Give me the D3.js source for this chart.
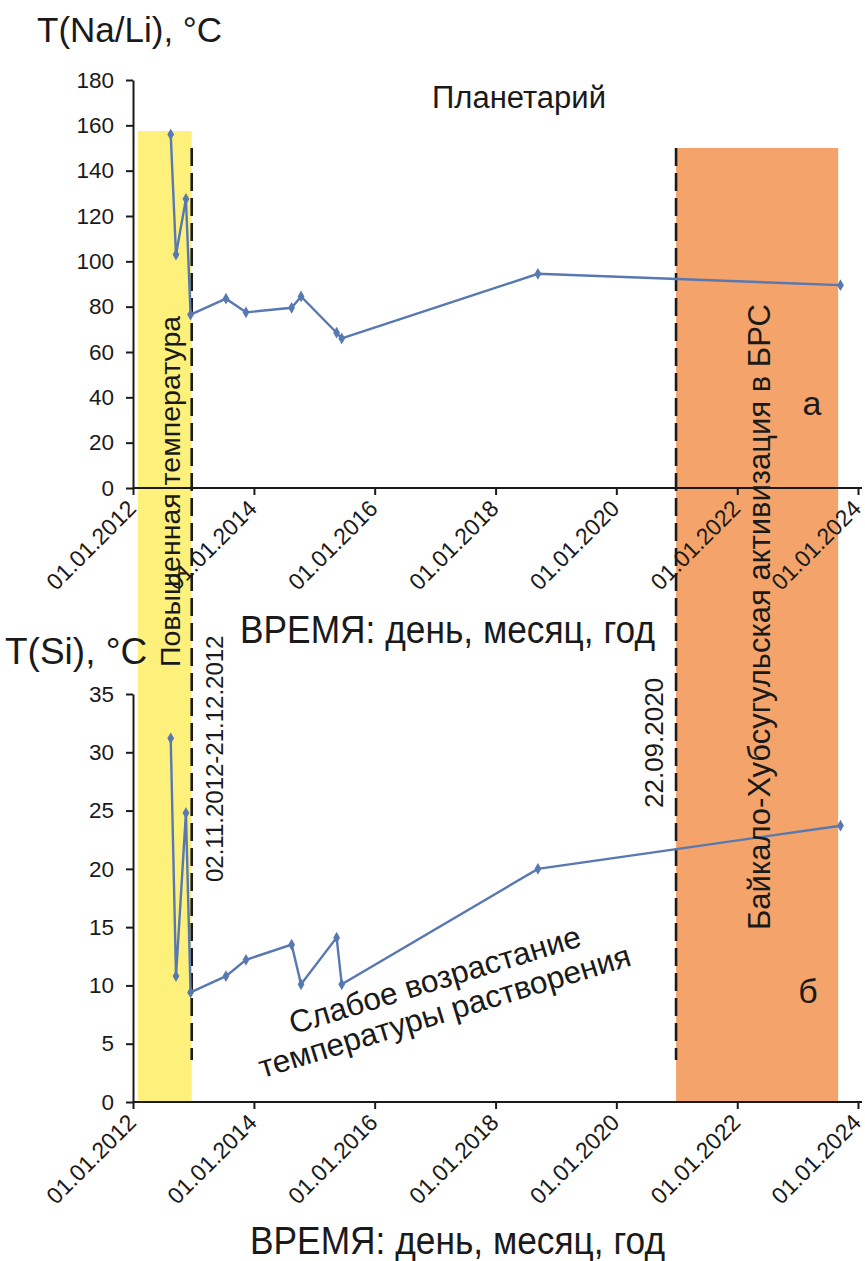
<!DOCTYPE html>
<html>
<head>
<meta charset="utf-8">
<script src="https://cdn.jsdelivr.net/npm/d3@7"></script>
<style>
  body { margin: 0; background: #fff; }
  svg text { font-family: "Liberation Sans", Arial, sans-serif; fill: #1a1a1a; }
  .axis path, .axis line { stroke: #1a1a1a; stroke-width: 2; }
</style>
</head>
<body>
<div id="chart"></div>
<script>
// sampling dates (same for both panels)
const sampleDates = ["2012-08-16", "2012-09-17", "2012-11-16", "2012-12-14", "2013-07-16", "2013-11-14",
                     "2014-08-17", "2014-10-13", "2015-05-16", "2015-06-16", "2018-09-14", "2023-09-17"];
// panel a: T(Na/Li), °C
const tNaLi = [156, 103, 127.5, 76.5, 83.5, 77.5, 79.5, 84.5, 68.5, 66, 94.5, 89.5];
// panel б: T(Si), °C
const tSi = [31.2, 10.8, 24.8, 9.4, 10.8, 12.2, 13.5, 10.1, 14.1, 10.1, 20.0, 23.7];

const xTicks = ["2012-01-01", "2014-01-01", "2016-01-01", "2018-01-01", "2020-01-01", "2022-01-01", "2024-01-01"];
const yTicksTop = [0, 20, 40, 60, 80, 100, 120, 140, 160, 180];
const yTicksBottom = [0, 5, 10, 15, 20, 25, 30, 35];

// highlighted periods: [start, end, top value on panel a]
const warmPeriod = ["2012-01-31", "2012-12-21", 157.5];
const activePeriod = ["2020-12-27", "2023-09-03", 150];
const eventLines = ["2012-12-21", "2020-12-27"];

const parse = d3.timeParse("%Y-%m-%d");
const W = 865, H = 1261;

let svg = d3.select("#chart").append("svg")
  .attr("width", W)
  .attr("height", H);

let xScale = d3.scaleTime()
  .domain([parse(xTicks[0]), parse(xTicks[xTicks.length - 1])])
  .range([133, 858]);

let yTop = d3.scaleLinear().domain([0, 180]).range([488, 80]);
let yBottom = d3.scaleLinear().domain([0, 35]).range([1102, 694]);

// background bands, spanning both panels
svg.append("rect")
  .attr("x", xScale(parse(warmPeriod[0])))
  .attr("y", yTop(warmPeriod[2]))
  .attr("width", xScale(parse(warmPeriod[1])) - xScale(parse(warmPeriod[0])))
  .attr("height", yBottom(0) - yTop(warmPeriod[2]))
  .attr("fill", "#fdf17c");

svg.append("rect")
  .attr("x", xScale(parse(activePeriod[0])))
  .attr("y", yTop(activePeriod[2]))
  .attr("width", xScale(parse(activePeriod[1])) - xScale(parse(activePeriod[0])))
  .attr("height", yBottom(0) - yTop(activePeriod[2]))
  .attr("fill", "#f4a46a");

// dashed event lines
eventLines.forEach(function(d) {
  svg.append("line")
    .attr("x1", xScale(parse(d)))
    .attr("x2", xScale(parse(d)))
    .attr("y1", yTop(150))
    .attr("y2", yBottom(3.6))
    .attr("stroke", "#1a1a1a")
    .attr("stroke-width", 2.6)
    .style("stroke-dasharray", "18, 7");
});

function drawPanel(yScale, yTicks, values) {
  let y0 = yScale(0);

  let xAxis = d3.axisBottom(xScale)
    .tickValues(xTicks.map(parse))
    .tickSize(7)
    .tickSizeOuter(0)
    .tickFormat(d3.timeFormat("%d.%m.%Y"));

  let gx = svg.append("g").attr("class", "axis")
    .attr("transform", "translate(0," + y0 + ")")
    .call(xAxis);
  gx.select(".domain").attr("d", "M" + xScale.range()[0] + ",0H" + (xScale.range()[1] + 4));
  gx.selectAll("text")
    .attr("x", 0).attr("y", 0).attr("dy", 0)
    .attr("text-anchor", "end")
    .attr("transform", "translate(4,22) rotate(-45)")
    .style("font-size", "23px");

  let yAxis = d3.axisLeft(yScale)
    .tickValues(yTicks)
    .tickSize(7)
    .tickSizeOuter(0)
    .tickPadding(12);

  svg.append("g").attr("class", "axis")
    .attr("transform", "translate(" + xScale.range()[0] + ",0)")
    .call(yAxis)
    .selectAll("text")
    .style("font-size", "22.5px");

  let pts = sampleDates.map(function(d, i) { return { date: parse(d), v: values[i] }; });

  let line = d3.line()
    .x(function(d) { return xScale(d.date); })
    .y(function(d) { return yScale(d.v); });

  svg.append("path")
    .datum(pts)
    .attr("d", line)
    .attr("fill", "none")
    .attr("stroke", "#5878b2")
    .attr("stroke-width", 2.4);

  svg.append("g").selectAll("path")
    .data(pts)
    .enter().append("path")
    .attr("d", d3.symbol(d3.symbolDiamond).size(40))
    .attr("transform", function(d) { return "translate(" + xScale(d.date) + "," + yScale(d.v) + ")"; })
    .attr("fill", "#5878b2");
}

drawPanel(yTop, yTicksTop, tNaLi);
drawPanel(yBottom, yTicksBottom, tSi);

// axis titles
svg.append("text").attr("x", 37).attr("y", 42).style("font-size", "35px").text("T(Na/Li), °C");
svg.append("text").attr("x", 5).attr("y", 664).style("font-size", "37px").text("T(Si), °C");

svg.append("text")
  .attr("x", 240).attr("y", 643)
  .attr("textLength", 415).attr("lengthAdjust", "spacingAndGlyphs")
  .style("font-size", "38px")
  .text("ВРЕМЯ: день, месяц, год");

svg.append("text")
  .attr("x", 250).attr("y", 1254)
  .attr("textLength", 415).attr("lengthAdjust", "spacingAndGlyphs")
  .style("font-size", "38px")
  .text("ВРЕМЯ: день, месяц, год");

// annotations
svg.append("text").attr("x", 519).attr("y", 108).attr("text-anchor", "middle")
  .style("font-size", "31px").text("Планетарий");

svg.append("text").attr("x", 812).attr("y", 415).attr("text-anchor", "middle")
  .style("font-size", "34px").text("а");
svg.append("text").attr("x", 808).attr("y", 1003).attr("text-anchor", "middle")
  .style("font-size", "34px").text("б");

function vtext(x, y, size, str) {
  svg.append("text")
    .attr("transform", "translate(" + x + "," + y + ") rotate(-90)")
    .style("font-size", size + "px")
    .text(str);
}

vtext(180, 667, 28.5, "Повыщенная температура");
vtext(223, 882, 24, "02.11.2012-21.12.2012");
vtext(663, 808, 26, "22.09.2020");
vtext(770, 930, 31, "Байкало-Хубсугульская активизация в БРС");

let slope = svg.append("text")
  .attr("transform", "translate(438,990) rotate(-17)")
  .attr("text-anchor", "middle")
  .style("font-size", "31.5px");
slope.append("tspan").attr("x", 0).attr("dy", 0).text("Слабое возрастание");
slope.append("tspan").attr("x", 0).attr("dy", 33).text("температуры растворения");
</script>
</body>
</html>
